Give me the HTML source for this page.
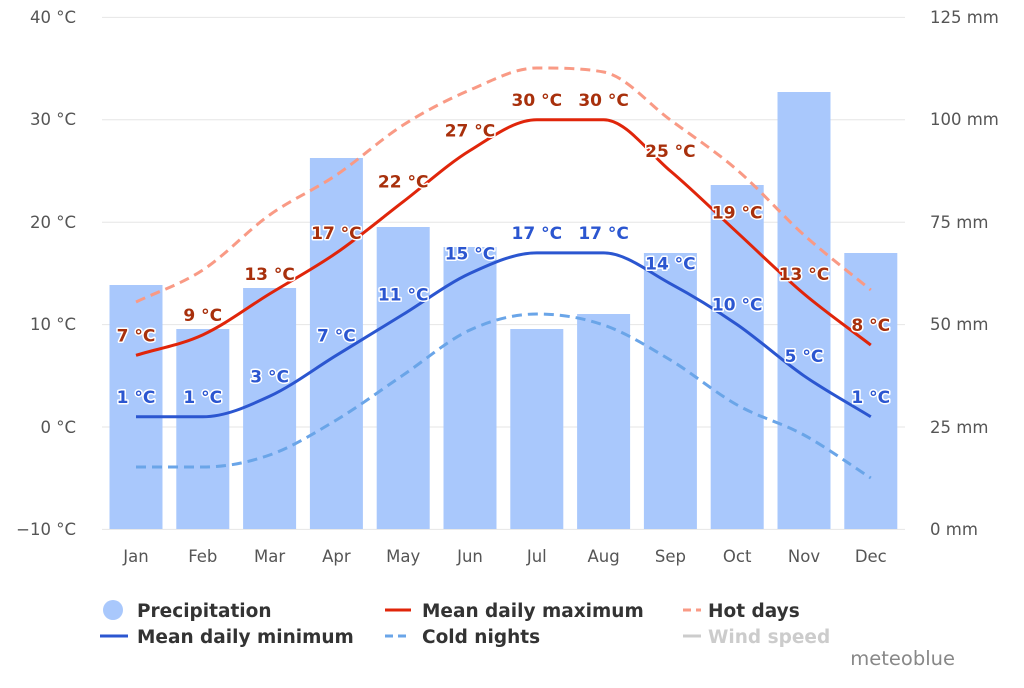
<!DOCTYPE html>
<html><head><meta charset="utf-8"><style>
body{margin:0;background:#fff;}
svg{font-family:"DejaVu Sans","Liberation Sans",sans-serif;}
</style></head><body>
<svg id="c" width="1024" height="683" xmlns="http://www.w3.org/2000/svg">
<g id="grid"></g>
<g id="bars"></g>
<g id="lines"></g>
<g id="labels"></g>
<g font-size="16.5" fill="#555">
<text x="76" y="23" text-anchor="end">40 °C</text>
<text x="76" y="125" text-anchor="end">30 °C</text>
<text x="76" y="228" text-anchor="end">20 °C</text>
<text x="76" y="330" text-anchor="end">10 °C</text>
<text x="76" y="433" text-anchor="end">0 °C</text>
<text x="76" y="535" text-anchor="end">−10 °C</text>
<text x="930" y="23">125 mm</text>
<text x="930" y="125">100 mm</text>
<text x="930" y="228">75 mm</text>
<text x="930" y="330">50 mm</text>
<text x="930" y="433">25 mm</text>
<text x="930" y="535">0 mm</text>
</g>
<g id="months" font-size="16.5" fill="#555" text-anchor="middle"></g>
<g font-size="18.5" font-weight="bold" fill="#333">
<circle cx="113" cy="610" r="10" fill="#a9c8fc"/>
<text x="137" y="617">Precipitation</text>
<line x1="385" y1="610" x2="411" y2="610" stroke="#e0250a" stroke-width="3"/>
<text x="422" y="617">Mean daily maximum</text>
<line x1="683" y1="610" x2="701" y2="610" stroke="#f99a85" stroke-width="3" stroke-dasharray="8,5"/>
<text x="708" y="617">Hot days</text>
<line x1="100" y1="636" x2="128" y2="636" stroke="#2b56d0" stroke-width="3"/>
<text x="137" y="643">Mean daily minimum</text>
<line x1="385" y1="636" x2="411" y2="636" stroke="#6aa5e8" stroke-width="3" stroke-dasharray="8,5"/>
<text x="422" y="643">Cold nights</text>
<line x1="683" y1="636" x2="701" y2="636" stroke="#ccc" stroke-width="3"/>
<text x="708" y="643" fill="#ccc">Wind speed</text>
</g>
<text x="955" y="665" font-size="19.5" fill="#888" text-anchor="end">meteoblue</text>
</svg>
<script>
var NS="http://www.w3.org/2000/svg";
function el(p,t,a,txt){var e=document.createElementNS(NS,t);for(var k in a)e.setAttribute(k,a[k]);if(txt!=null)e.textContent=txt;document.getElementById(p).appendChild(e);return e;}
var X=function(i){return 136+i*66.8;};
var Y=function(t){return 427-10.24*t;};
for(var t=-10;t<=40;t+=10){el("grid","line",{x1:102,x2:905,y1:Y(t),y2:Y(t),stroke:"#e6e6e6","stroke-width":1});}
var bt=[285,329,288,158,227,247,329,314,253,185,92,253];
var M=["Jan","Feb","Mar","Apr","May","Jun","Jul","Aug","Sep","Oct","Nov","Dec"];
for(var i=0;i<12;i++){el("bars","rect",{x:X(i)-26.5,y:bt[i],width:53,height:529-bt[i],fill:"#a9c8fc"});el("months","text",{x:X(i),y:562},M[i]);}
function path(ys){var n=ys.length,h=66.8,d=[],m=[];
for(var i=0;i<n-1;i++)d.push((ys[i+1]-ys[i])/h);
for(var i=0;i<n;i++){if(i==0)m.push(d[0]);else if(i==n-1)m.push(d[n-2]);else if(d[i-1]*d[i]<=0)m.push(0);else m.push((d[i-1]+d[i])/2);}
for(var i=0;i<n-1;i++){if(d[i]==0){m[i]=0;m[i+1]=0;continue;}var a=m[i]/d[i],b=m[i+1]/d[i],s=a*a+b*b;if(s>9){var t=3/Math.sqrt(s);m[i]=t*a*d[i];m[i+1]=t*b*d[i];}}
var p="M"+X(0)+","+ys[0];
for(var i=0;i<n-1;i++){p+=" C"+(X(i)+h/3)+","+(ys[i]+m[i]*h/3)+" "+(X(i+1)-h/3)+","+(ys[i+1]-m[i+1]*h/3)+" "+X(i+1)+","+ys[i+1];}
return p;}
var hot=[302,270,215,175,125,90,68,72,120,170,235,290];
var cold=[467,467,455,420,375,330,314,325,360,405,435,478];
var mx=[7,9,13,17,22,27,30,30,25,19,13,8],mn=[1,1,3,7,11,15,17,17,14,10,5,1];
el("lines","path",{d:path(hot),fill:"none",stroke:"#f99a85","stroke-width":3,"stroke-dasharray":"10,6"});
el("lines","path",{d:path(cold),fill:"none",stroke:"#6aa5e8","stroke-width":3,"stroke-dasharray":"10,6"});
el("lines","path",{d:path(mx.map(Y)),fill:"none",stroke:"#e0250a","stroke-width":3});
el("lines","path",{d:path(mn.map(Y)),fill:"none",stroke:"#2b56d0","stroke-width":3});
function lab(v,c){for(var i=0;i<12;i++){var a={x:X(i),y:Y(v[i])-14,"text-anchor":"middle","font-size":17,"font-weight":"bold",fill:c,stroke:"#fff","stroke-width":3,"paint-order":"stroke","stroke-linejoin":"round"};el("labels","text",a,v[i]+" °C");}}
lab(mx,"#a8300c");lab(mn,"#2b56d0");
</script>
</body></html>
